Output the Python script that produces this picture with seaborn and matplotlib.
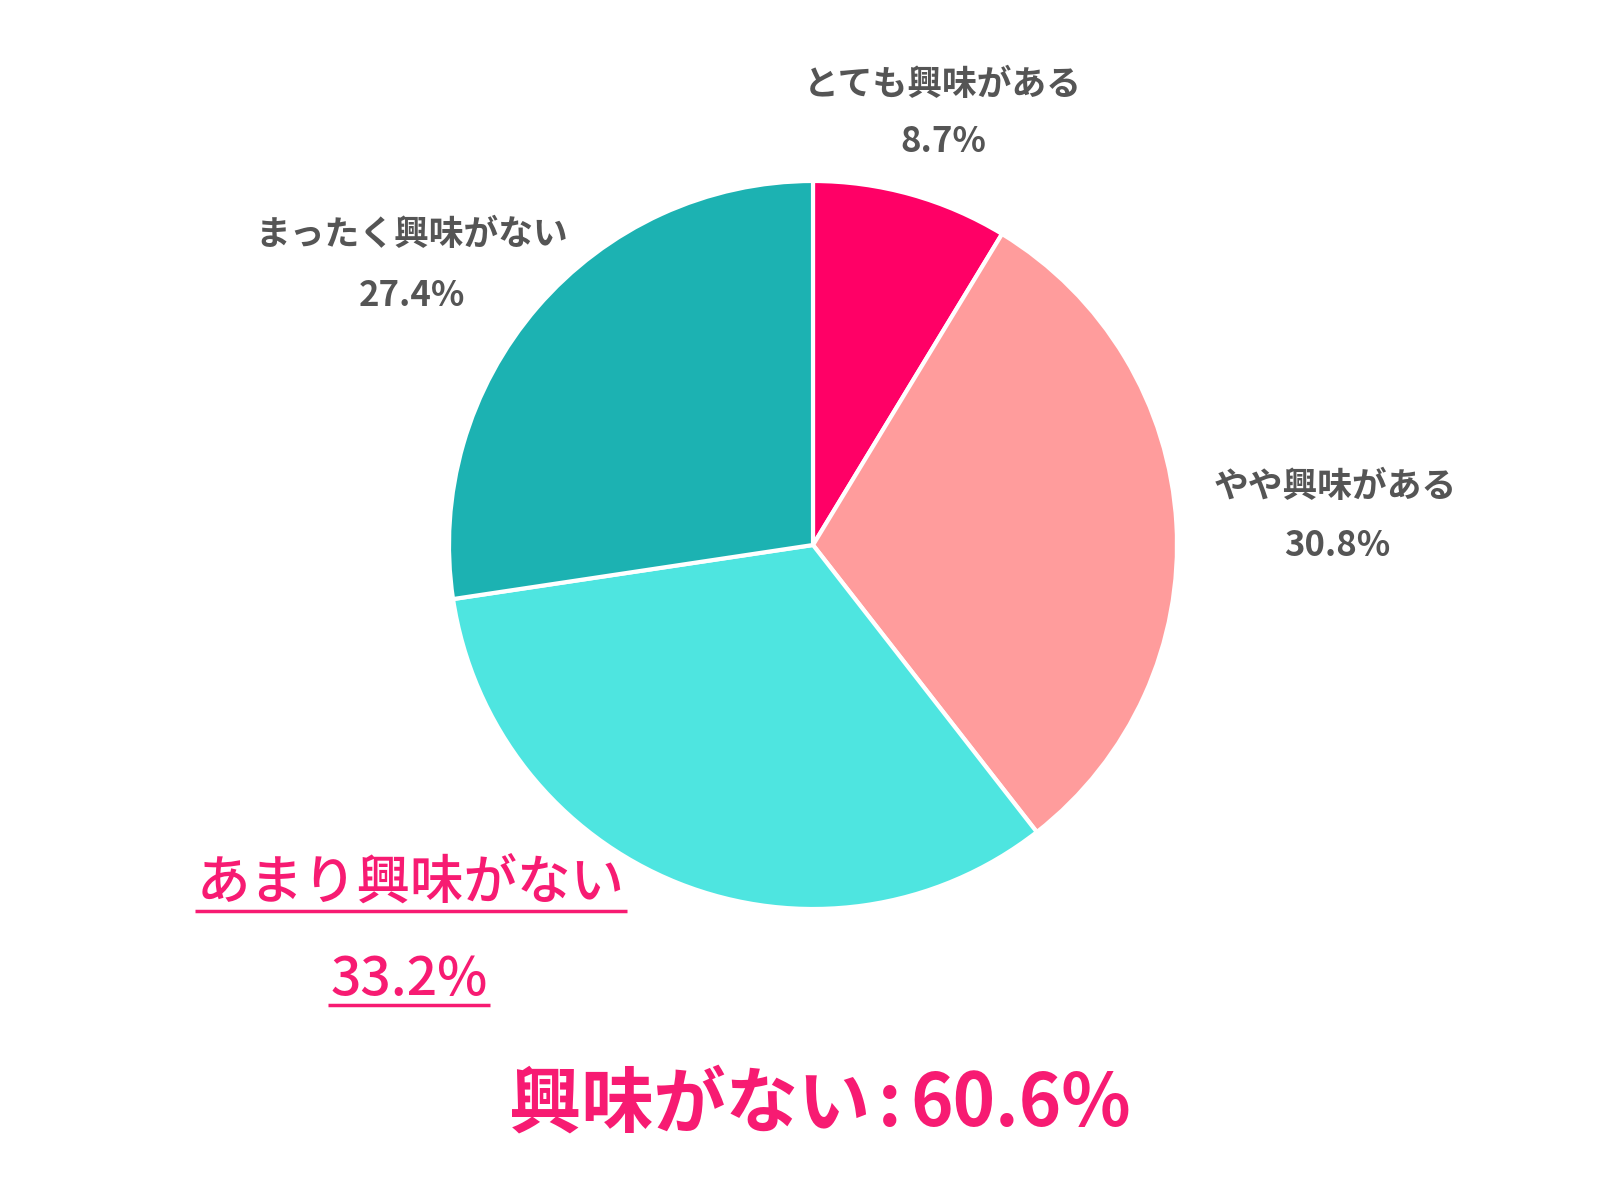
import matplotlib
matplotlib.use("Agg")
import matplotlib.pyplot as plt
import seaborn as sns

categories = ["とても興味がある", "やや興味がある", "あまり興味がない", "まったく興味がない"]
values = [8.7, 30.8, 33.2, 27.4]
pct_labels = ["8.7%", "30.8%", "33.2%", "27.4%"]
colors = ["#FF0066", "#FF9C9C", "#4EE5E0", "#1CB2B2"]
summary_label = "興味がない"
summary_sep = ":"
summary_value = "60.6%"

sns.set_theme(style="white")
plt.rcParams['font.family'] = ['Noto Sans CJK JP', 'DejaVu Sans']

W, H = 1600, 1200
fig = plt.figure(figsize=(16, 12), dpi=100)
ax = fig.add_axes([0, 0, 1, 1])

cx, cy, r = 813, H - 545, 364
ax.pie(values, colors=colors, startangle=90, counterclock=False,
       center=(cx, cy), radius=r, frame=True,
       wedgeprops=dict(edgecolor="white", linewidth=3))
ax.set_xlim(0, W)
ax.set_ylim(0, H)
ax.set_aspect("equal")
ax.axis("off")

gray = "#555555"
pink = "#F71B72"

label_pos = {
    0: ((943, 84), (943, 142)),
    1: ((1335, 486), (1337, 545)),
    3: ((412, 235), (412, 296)),
}
for i, ((lx, ly), (px, py)) in label_pos.items():
    ax.text(lx, H - ly, categories[i], ha="center", va="center",
            fontsize=25, fontweight="bold", color=gray)
    ax.text(px, H - py, pct_labels[i], ha="center", va="center",
            fontsize=25, fontweight="bold", color=gray)

t1 = ax.text(411, H - 885, categories[2], ha="center", va="center",
             fontsize=38.5, fontweight="medium", color=pink)
t2 = ax.text(409, H - 980, pct_labels[2], ha="center", va="center",
             fontsize=38.5, fontweight="medium", color=pink)

ax.text(870, H - 1105, summary_label, ha="right", va="center",
        fontsize=52, fontweight="bold", color=pink)
ax.text(890, H - 1105, summary_sep, ha="center", va="center",
        fontsize=52, fontweight="bold", color=pink)
ax.text(910, H - 1105, summary_value, ha="left", va="center",
        fontsize=52, fontweight="bold", color=pink)

# underlines
fig.canvas.draw()
renderer = fig.canvas.get_renderer()
inv = ax.transData.inverted()
for t, uy in ((t1, 911), (t2, 1005)):
    bb = t.get_window_extent(renderer)
    (x0, _), (x1, _) = inv.transform([[bb.x0, bb.y0], [bb.x1, bb.y1]])
    ax.plot([x0 - 2, x1 + 2], [H - uy, H - uy], color=pink, linewidth=2.5,
            solid_capstyle="butt")

fig.savefig("out.png", dpi=100, facecolor="white")
